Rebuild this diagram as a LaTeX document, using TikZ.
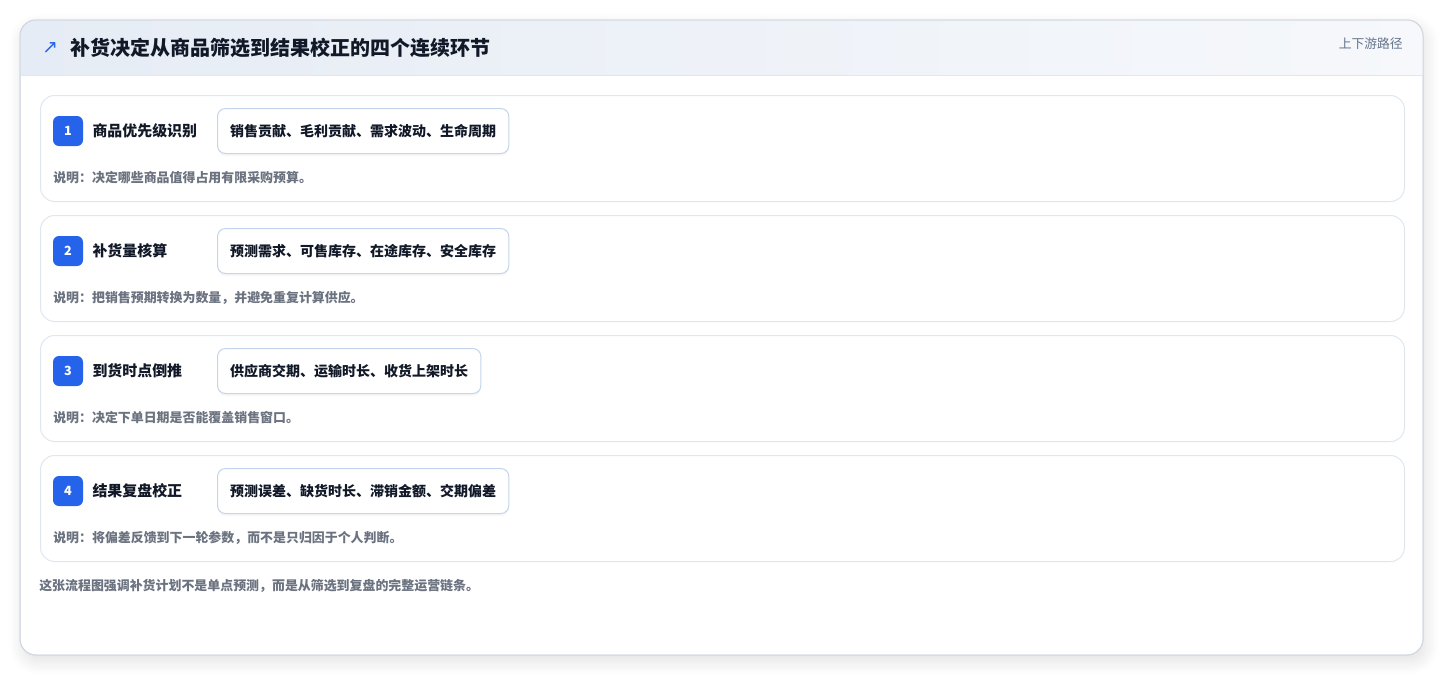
\documentclass[tikz,border=0pt]{standalone}
\usepackage{fontspec}
\setmainfont{Noto Sans CJK SC}
\newfontfamily\symbolfont{DejaVu Sans}
\usepackage{tikz}
\usetikzlibrary{positioning, shadows.blur}
\definecolor{brandblue}{HTML}{2563EB}
\definecolor{inkdark}{HTML}{111827}
\definecolor{notegray}{HTML}{6B7280}
\definecolor{pagegray}{HTML}{64748B}
\definecolor{frameline}{HTML}{D3D9E3}
\definecolor{stepline}{HTML}{DFE7F1}
\definecolor{tagline}{HTML}{C3D5EE}
\definecolor{headleft}{HTML}{E6ECF5}
\definecolor{headright}{HTML}{F6F8FB}

\begin{document}
\begin{tikzpicture}[
  x=0.75pt, y=-0.75pt,
  frame/.style={rounded corners=12pt, draw=frameline, fill=white, line width=0.75pt},
  card/.style={rectangle, rounded corners=10.5pt, draw=stepline, fill=white,
    line width=0.75pt, minimum width=1023pt, minimum height=79.5pt,
    anchor=north west, inner sep=0pt},
  badge/.style={rectangle, rounded corners=4.5pt, fill=brandblue, text=white,
    minimum size=22.5pt, inner sep=0pt, font=\fontsize{9.5}{11}\selectfont\bfseries},
  steptitle/.style={anchor=west, inner sep=0pt, text=inkdark,
    font=\fontsize{11.2}{13}\selectfont\bfseries},
  tag/.style={rectangle, anchor=west, rounded corners=6pt, draw=tagline, fill=white,
    line width=0.75pt, minimum height=33.75pt, inner xsep=9.5pt, text=inkdark,
    font=\fontsize{10.5}{12}\selectfont\bfseries,
    drop shadow={shadow xshift=0pt, shadow yshift=-2pt, opacity=0.06}},
  note/.style={anchor=west, inner sep=0pt, text=notegray,
    font=\fontsize{9.7}{11}\selectfont\bfseries},
]
\useasboundingbox (0,0) rectangle (1444,676);

% outer panel with header band
\draw[frame, blur shadow={shadow blur steps=12, shadow xshift=2pt, shadow yshift=-5pt,
  shadow opacity=12, shadow blur radius=10pt}] (20,20) rectangle (1423,655);
\begin{scope}
  \clip[rounded corners=12pt] (20,20) rectangle (1423,655);
  \fill[left color=headleft, right color=headright] (20,20) rectangle (1423,75);
\end{scope}
\draw[stepline, line width=0.75pt] (20,75) -- (1423,75);
\draw[frame, fill=none] (20,20) rectangle (1423,655);

\node[anchor=west, inner sep=0pt, text=brandblue, font=\symbolfont\fontsize{14}{16}\selectfont]
  (arrow) at (42,48) {↗};
\node[anchor=west, inner sep=0pt, text=inkdark, font=\fontsize{15}{17}\selectfont\bfseries]
  (title) at (70,48) {补货决定从商品筛选到结果校正的四个连续环节};
\node[anchor=east, inner sep=0pt, text=pagegray, font=\fontsize{9.6}{11}\selectfont]
  (route) at (1403,44) {上下游路径};

\def\rA{95}
\def\rB{215}
\def\rC{335}
\def\rD{455}

% 1. priority
\node[card] (cA) at (40,\rA) {};
\node[badge] (bA) at (68,\rA+36) {1};
\node[steptitle, right=6.75pt of bA] (sA) {商品优先级识别};
\node[tag] (tA) at (217,\rA+36) {销售贡献、毛利贡献、需求波动、生命周期};
\node[note] (nA) at (53,\rA+83) {说明：决定哪些商品值得占用有限采购预算。};

% 2. quantity
\node[card] (cB) at (40,\rB) {};
\node[badge] (bB) at (68,\rB+36) {2};
\node[steptitle, right=6.75pt of bB] (sB) {补货量核算};
\node[tag] (tB) at (217,\rB+36) {预测需求、可售库存、在途库存、安全库存};
\node[note] (nB) at (53,\rB+83) {说明：把销售预期转换为数量，并避免重复计算供应。};

% 3. timing
\node[card] (cC) at (40,\rC) {};
\node[badge] (bC) at (68,\rC+36) {3};
\node[steptitle, right=6.75pt of bC] (sC) {到货时点倒推};
\node[tag] (tC) at (217,\rC+36) {供应商交期、运输时长、收货上架时长};
\node[note] (nC) at (53,\rC+83) {说明：决定下单日期是否能覆盖销售窗口。};

% 4. review
\node[card] (cD) at (40,\rD) {};
\node[badge] (bD) at (68,\rD+36) {4};
\node[steptitle, right=6.75pt of bD] (sD) {结果复盘校正};
\node[tag] (tD) at (217,\rD+36) {预测误差、缺货时长、滞销金额、交期偏差};
\node[note] (nD) at (53,\rD+83) {说明：将偏差反馈到下一轮参数，而不是只归因于个人判断。};

% footer
\node[note] (foot) at (39,586) {这张流程图强调补货计划不是单点预测，而是从筛选到复盘的完整运营链条。};

\end{tikzpicture}
\end{document}
